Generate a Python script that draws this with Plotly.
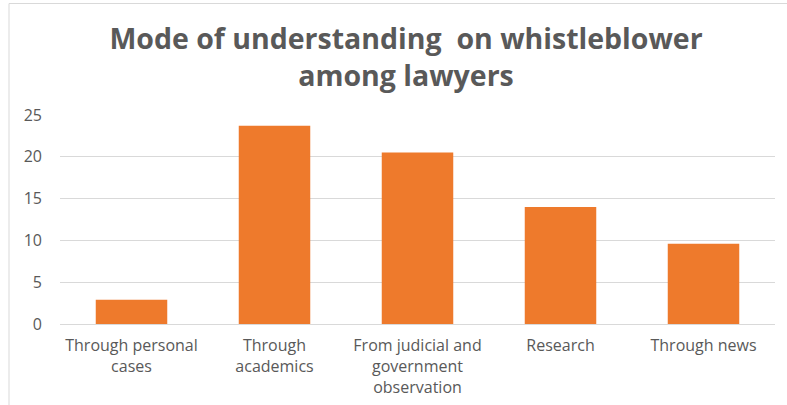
import plotly.graph_objects as go

categories = ["Through personal<br>cases", "Through<br>academics",
              "From judicial and<br>government<br>observation", "Research", "Through news"]
values = [2.9, 23.7, 20.5, 14.0, 9.6]
y_ticks = [0, 5, 10, 15, 20, 25]

fig = go.Figure()
fig.add_trace(go.Bar(
    x=categories, y=values,
    marker=dict(color="#EE7A2C", line=dict(width=0)),
    width=0.5,
))

W, H = 787, 405
L, R, T, B = 60, 12, 115, 81
pw, ph = W - L - R, H - T - B

def px_to_paper_x(px):
    return (px - L) / pw

def px_to_paper_y(py):
    return (H - B - py) / ph

fig.update_layout(
    width=W, height=H,
    margin=dict(l=L, r=R, t=T, b=B, pad=0, autoexpand=False),
    paper_bgcolor="white", plot_bgcolor="white",
    showlegend=False,
    font=dict(family="Open Sans", color="#595959", size=16),
    title=dict(
        text="<b>Mode of understanding  on whistleblower<br>among lawyers</b>",
        x=406 / W, xanchor="center", xref="container",
        y=1 - 49 / H, yanchor="middle", yref="container",
        font=dict(family="Open Sans", size=28.5, color="#595959"),
    ),
    xaxis=dict(showgrid=False, showline=False, ticks="", ticklabelstandoff=10, automargin=False,
               tickfont=dict(size=16, color="#595959")),
    yaxis=dict(range=[0, 25], tickvals=y_ticks, showgrid=True, gridcolor="#D9D9D9", gridwidth=1,
               zeroline=True, zerolinecolor="#D9D9D9", zerolinewidth=1, automargin=False,
               showline=False, ticks="", ticklabelstandoff=17,
               tickfont=dict(size=16, color="#595959")),
    shapes=[
        dict(type="line", xref="paper", yref="paper",
             x0=px_to_paper_x(9), x1=px_to_paper_x(9),
             y0=px_to_paper_y(3.5), y1=px_to_paper_y(406),
             line=dict(color="#D9D9D9", width=1)),
        dict(type="line", xref="paper", yref="paper",
             x0=px_to_paper_x(9), x1=px_to_paper_x(788),
             y0=px_to_paper_y(3.5), y1=px_to_paper_y(3.5),
             line=dict(color="#D9D9D9", width=1)),
    ],
)

fig.write_html("out.html")
